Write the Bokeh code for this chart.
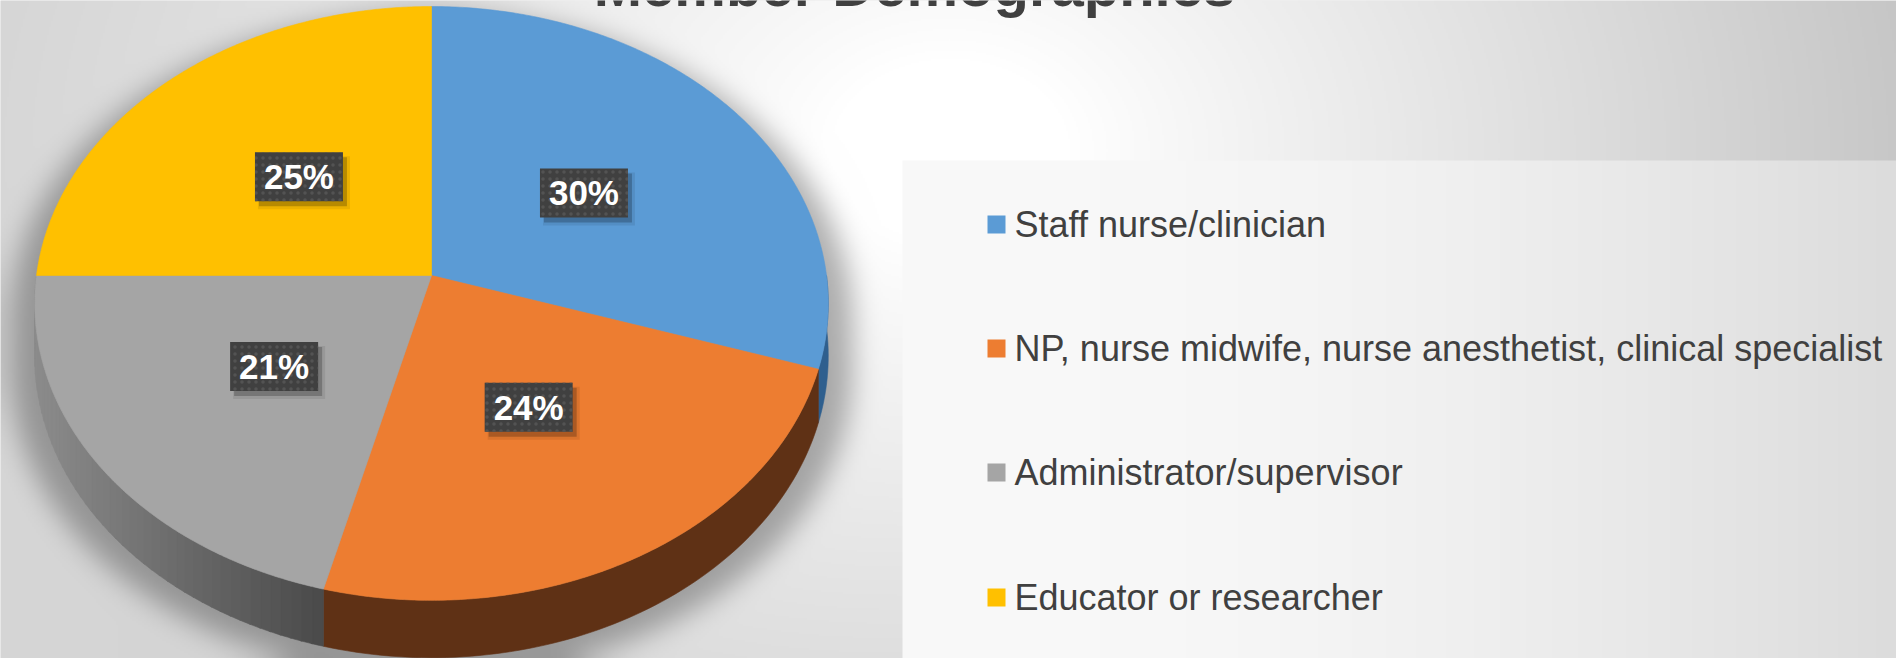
import numpy as np
from bokeh.plotting import figure
from bokeh.models import Range1d
from bokeh.core.properties import value
from bokeh.embed import file_html
from bokeh.resources import INLINE

# ---------------- data ----------------
title_text = "Member Demographics"
categories = [
    "Staff nurse/clinician",
    "NP, nurse midwife, nurse anesthetist, clinical specialist",
    "Administrator/supervisor",
    "Educator or researcher",
]
shares = [30, 24, 21, 25]
share_labels = ["30%", "24%", "21%", "25%"]
top_colors = ["#5B9BD5", "#ED7D31", "#A5A5A5", "#FFC000"]
side_colors = ["#2F5F8E", "#5F3115", "#6E6E6E", "#9C7500"]

# ---------------- layout (window pixels) ----------------
WIN_H = 658
FW, FH = 1896, 658
OX, OY = 0, 0

CX, CY = 431.0, 275.0      # apex of the pie on screen
S = 395.0                  # radius scale
SIN_A = 0.745              # tilt
K = 0.094                  # perspective
DEPTH = 52.0               # thickness


def proj(r, th):
    X = r * np.sin(th)
    Z = r * np.cos(th)
    w = 1 + K * Z
    return CX + S * X / w, CY - S * SIN_A * Z / w, w


def dy(py):
    return WIN_H - np.asarray(py, dtype=float)


# ---------------- background image ----------------
IW, IH = FW // 2, FH // 2
px = OX + 2 * np.arange(IW) + 1.0
py = OY + 2 * np.arange(IH) + 1.0
PX, PY = np.meshgrid(px, py)

d = np.sqrt((PX - 950) ** 2 + ((PY - 150) * 1.3) ** 2)
t = np.clip((d - 120) / 850, 0, 1) ** 0.9
end = 214 - 16 * (PX / 1896)
bg = 255 - (255 - end) * t


def inside_top(PXs, PYs, sx=1.0, sy=1.0):
    u = (PXs - CX) / (S * sx)
    v = (CY - PYs) / (S * SIN_A * sy)
    den = 1 - K * v
    Z = v / den
    X = u * (1 + K * Z)
    return (X ** 2 + Z ** 2 <= 1) & (den > 0)


sil = np.zeros_like(bg, dtype=bool)
for s in np.linspace(0, DEPTH, 12):
    sil |= inside_top(PX, PY - 14 - s, 1.06, 1.03)
sh = sil.astype(float)


def box1(a, r, axis):
    pad = [(0, 0), (0, 0)]
    pad[axis] = (r + 1, r)
    ap = np.pad(a, pad, mode="edge")
    c = np.cumsum(ap, axis=axis)
    n = a.shape[axis]
    if axis == 0:
        return (c[2 * r + 1:2 * r + 1 + n, :] - c[0:n, :]) / (2 * r + 1)
    return (c[:, 2 * r + 1:2 * r + 1 + n] - c[:, 0:n]) / (2 * r + 1)


for _ in range(3):
    sh = box1(sh, 6, 0)
    sh = box1(sh, 6, 1)
bg = bg * (1 - 0.30 * sh)

# legend panel
panel = (PX >= 903) & (PY >= 161)
pv = 248 - 28 * np.clip((PX - 1100) / 796, 0, 1) ** 1.5
bg = np.where(panel, pv, bg)

img = np.empty((IH, IW, 4), dtype=np.uint8)
g = np.clip(bg, 0, 255).astype(np.uint8)
img[..., 0] = g
img[..., 1] = g
img[..., 2] = g
img[..., 3] = 255
img = np.flipud(img).copy()
img32 = img.view(np.uint32).reshape(IH, IW)

# ---------------- figure ----------------
p = figure(width=FW, height=FH, x_range=Range1d(OX, OX + FW),
           y_range=Range1d(WIN_H - OY - FH, WIN_H - OY),
           output_backend="svg", toolbar_location=None, min_border=0,
           x_axis_location=None, y_axis_location=None)
p.grid.visible = False
p.outline_line_color = None
p.background_fill_color = "#e0e0e0"
p.border_fill_color = "#e0e0e0"

p.image_rgba(image=[img32], x=OX, y=WIN_H - OY - FH, dw=FW, dh=FH)

# ---------------- pie geometry from data ----------------
total = float(sum(shares))
bounds = np.concatenate([[0], np.cumsum(shares)]) / total * 2 * np.pi

# side walls (front half only)
side_xs, side_ys, side_cols = [], [], []
lo_v, hi_v = np.pi / 2, 3 * np.pi / 2
for i in range(len(shares)):
    a0, a1 = max(bounds[i], lo_v), min(bounds[i + 1], hi_v)
    if a1 <= a0:
        continue
    if top_colors[i] == "#A5A5A5":
        nstrip = int(np.ceil((a1 - a0) / np.radians(1.5)))
        edges = np.linspace(a0, a1, nstrip + 1)
        for e0, e1 in zip(edges[:-1], edges[1:]):
            th = np.linspace(e0, e1 + 0.004, 4)
            x, y, w = proj(1.0, th)
            yb = y + DEPTH / w
            xm = float(np.mean(x))
            c = int(np.clip(74 + (140 - 74) * (323 - xm) / (323 - 36), 60, 160))
            side_xs.append(list(np.concatenate([x, x[::-1]])))
            side_ys.append(list(dy(np.concatenate([y, yb[::-1]]))))
            side_cols.append("#%02x%02x%02x" % (c, c, c))
    else:
        th = np.linspace(a0, a1, 80)
        x, y, w = proj(1.0, th)
        yb = y + DEPTH / w
        side_xs.append(list(np.concatenate([x, x[::-1]])))
        side_ys.append(list(dy(np.concatenate([y, yb[::-1]]))))
        side_cols.append(side_colors[i])
p.patches(side_xs, side_ys, fill_color=side_cols, line_color=side_cols, line_width=0.6)

# top faces
top_xs, top_ys = [], []
for i in range(len(shares)):
    th = np.linspace(bounds[i], bounds[i + 1], 200)
    x, y, w = proj(1.0, th)
    top_xs.append([CX] + list(x))
    top_ys.append(list(dy(np.concatenate([[CY], y]))))
p.patches(top_xs, top_ys, fill_color=top_colors, line_color=top_colors, line_width=0.6)

# data labels
mids = (bounds[:-1] + bounds[1:]) / 2
lx, ly, _ = proj(0.49, mids)
lyd = dy(ly)
BW, BH = 88, 49
p.rect(lx + 5, lyd - 6, BW + 4, BH + 4, fill_color="black", fill_alpha=0.08, line_color=None)
p.rect(lx + 4, lyd - 5, BW, BH, fill_color="black", fill_alpha=0.22, line_color=None)
p.rect(lx, lyd, BW, BH, fill_color="#404040", line_color=None,
       hatch_pattern="dot", hatch_color="#535353", hatch_scale=7, hatch_weight=1.5)
p.text(lx, lyd, text=share_labels, text_align="center", text_baseline="middle",
       text_font=value("Liberation Sans"), text_font_style="bold", text_font_size="35px",
       text_color="white")

# legend
leg_y = dy([224, 348, 472, 597])
p.rect([996] * 4, leg_y, 18, 18, fill_color=top_colors, line_color=None)
p.text([1014] * 4, leg_y, text=categories, text_align="left", text_baseline="middle",
       text_font=value("Liberation Sans"), text_font_size="36px", text_color="#404040")

# title (cut by the top edge as in the reference)
p.text([914], dy([-15]), text=[title_text], text_align="center", text_baseline="middle",
       text_font=value("Liberation Sans"), text_font_style="bold", text_font_size="58px",
       text_color="#404040")

open("out.html", "w").write(file_html(p, INLINE))
